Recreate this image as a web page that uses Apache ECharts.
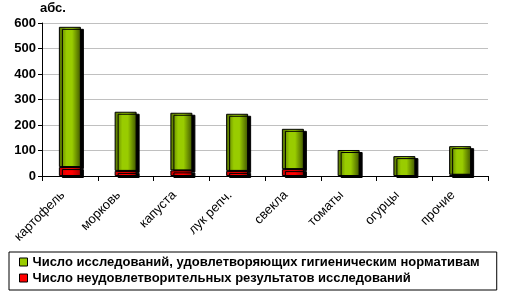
<!DOCTYPE html>
<html><head><meta charset="utf-8">
<script src="https://cdn.jsdelivr.net/npm/echarts@6/dist/echarts.min.js"></script>
<style>html,body{margin:0;padding:0;background:#fff}#c{width:505px;height:305px}</style>
</head><body><div id="c"></div>
<script>
var categories = ['картофель','морковь','капуста','лук репч.','свекла','томаты','огурцы','прочие'];
var badValues = [35, 20, 22, 20, 27, 0, 0, 5];
var goodValues = [550, 232, 226, 224, 158, 102, 78, 112];
var yTicks = [0, 100, 200, 300, 400, 500, 600];
var goodName = 'Число исследований, удовлетворяющих гигиеническим нормативам';
var badName = 'Число неудовлетворительных результатов исследований';

var F = 'Arial, "Liberation Sans", sans-serif';
var green = {type:'linear',x:0,y:0,x2:1,y2:0,colorStops:[
  {offset:0,color:'#4f6b00'},{offset:0.35,color:'#99cc00'},{offset:0.6,color:'#99cc00'},{offset:1,color:'#3f5500'}]};
var red = {type:'linear',x:0,y:0,x2:1,y2:0,colorStops:[
  {offset:0,color:'#c00000'},{offset:0.35,color:'#ff0000'},{offset:0.6,color:'#ff0000'},{offset:1,color:'#a00000'}]};
var shadow = {shadowColor:'#000',shadowBlur:0,shadowOffsetX:3,shadowOffsetY:2};

var chart = echarts.init(document.getElementById('c'), null, {renderer:'canvas'});
chart.setOption({
  animation:false,
  grid:{left:42,right:17,top:23,bottom:129,containLabel:false},
  legend:{
    orient:'vertical', left:9, top:252,
    data:[{name:goodName,itemStyle:{color:'#99cc00',borderColor:'#000',borderWidth:1}},
          {name:badName,itemStyle:{color:'#ff0000',borderColor:'#000',borderWidth:1}}],
    icon:'rect', itemWidth:8, itemHeight:8, itemGap:0,
    borderColor:'#000', borderWidth:1, padding:[2,17,4,10],
    textStyle:{fontFamily:F,fontSize:13,fontWeight:'bold',color:'#000',lineHeight:16}
  },
  xAxis:{
    type:'category', data:categories,
    axisLine:{lineStyle:{color:'#000',width:1}},
    axisTick:{show:true,length:5,alignWithLabel:false,lineStyle:{color:'#000'}},
    axisLabel:{rotate:45,interval:0,fontFamily:F,fontSize:13,color:'#000',margin:10,padding:[0,10,0,0]},
    splitLine:{show:false}
  },
  yAxis:{
    type:'value', min:yTicks[0], max:yTicks[yTicks.length-1], interval:100,
    name:'абс.', nameLocation:'end', nameGap:8,
    nameTextStyle:{fontFamily:F,fontSize:13,fontWeight:'bold',color:'#000',align:'left',padding:[0,0,0,-2]},
    axisLine:{show:true,lineStyle:{color:'#000'}},
    axisTick:{show:true,length:4,lineStyle:{color:'#000'}},
    axisLabel:{fontFamily:F,fontSize:13,fontWeight:'bold',color:'#000',margin:6},
    splitLine:{show:true,lineStyle:{color:'#c0c0c0',width:1}}
  },
  series:[
    {name:badName,type:'bar',stack:'s',data:badValues.map(function(v){return v===0?'-':v;}),barWidth:22,z:3,
     itemStyle:Object.assign({color:red,borderColor:'#000',borderWidth:1},shadow)},
    {name:goodName,type:'bar',stack:'s',data:goodValues,barWidth:22,z:2,
     itemStyle:Object.assign({color:green,borderColor:'#000',borderWidth:1},shadow)}
  ]
});
</script></body></html>
